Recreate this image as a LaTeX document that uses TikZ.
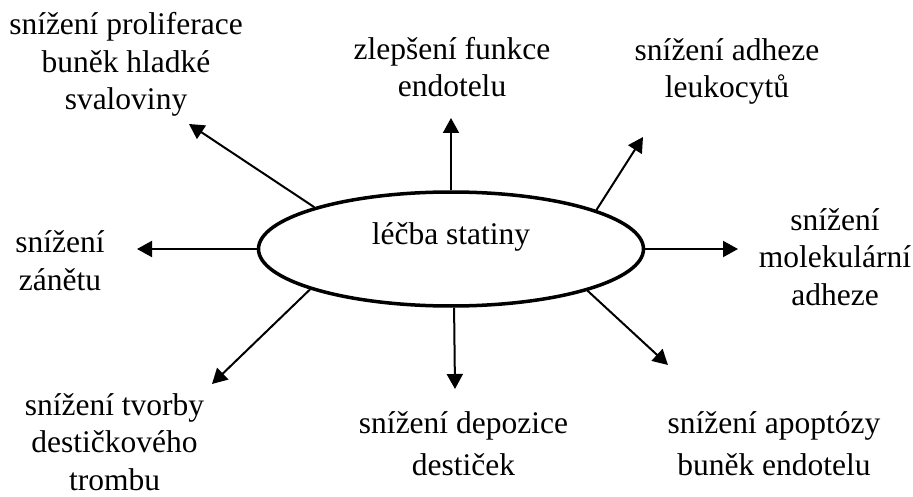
\documentclass[tikz,border=0pt]{standalone}
\usepackage{fontspec}
\setmainfont{Liberation Serif}
\usetikzlibrary{shapes.geometric,arrows.meta}
\begin{document}
\begin{tikzpicture}[x=1pt,y=-1pt,
  lbl/.style={anchor=base,align=center,inner sep=0pt,font=\fontsize{31.5}{37.5}\selectfont},
  lblw/.style={lbl,font=\fontsize{31.5}{42}\selectfont},
  arr/.style={line width=2pt,-{Triangle[length=15pt,width=16pt]}},
  hub/.style={ellipse,draw,line width=3.5pt,minimum width=385pt,minimum height=114pt,inner sep=0pt,text height=22pt,text depth=32pt,font=\fontsize{31.5}{37.5}\selectfont}]
\useasboundingbox (0,0) rectangle (913,497);

\node[hub] (c) at (451,249) {léčba statiny};

\node[lbl] (l1) at (126,110) {snížení proliferace\\buněk hladké\\svaloviny};
\node[lbl] (l2) at (452,97) {zlepšení funkce\\endotelu};
\node[lbl] (l3) at (727,98) {snížení adheze\\leukocytů};
\node[lbl] (l4) at (835,305) {snížení\\molekulární\\adheze};
\node[lbl] (l5) at (60,290.5) {snížení\\zánětu};
\node[lbl] (l6) at (114.5,490) {snížení tvorby\\destičkového\\trombu};
\node[lblw] (l7) at (463.5,475) {snížení depozice\\destiček};
\node[lblw] (l8) at (774,475) {snížení apoptózy\\buněk endotelu};

\coordinate (t1) at (189,124);
\coordinate (t2) at (451,118);
\coordinate (t3) at (643,137);
\coordinate (t4) at (137,249);
\coordinate (t5) at (738,249);
\coordinate (t6) at (212,384);
\coordinate (t7) at (455,389);
\coordinate (t8) at (668,365);

\draw[arr] (c.163.8) -- (t1);
\draw[arr] (c.90) -- (t2);
\draw[arr] (c.15.5) -- (t3);
\draw[arr] (c.180) -- (t4);
\draw[arr] (c.0) -- (t5);
\draw[arr] (c.196.3) -- (t6);
\draw[arr] (c.273.9) -- (t7);
\draw[arr] (c.343.6) -- (t8);
\end{tikzpicture}
\end{document}
